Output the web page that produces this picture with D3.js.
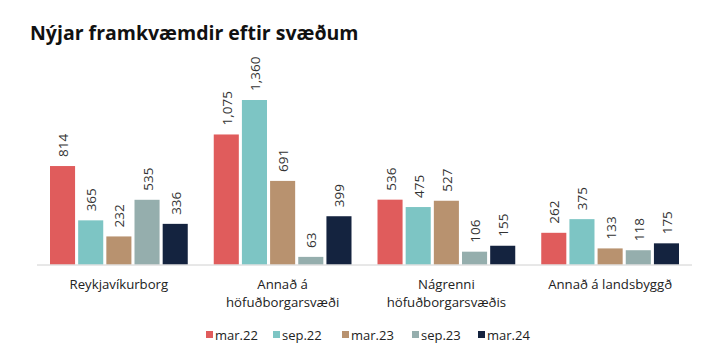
<!DOCTYPE html>
<html><head><meta charset="utf-8">
<script src="https://cdn.jsdelivr.net/npm/d3@7"></script>
<style>body{margin:0;background:#fff}svg{display:block}</style>
</head><body>
<script>
const categories = [["Reykjavíkurborg"], ["Annað á", "höfuðborgarsvæði"], ["Nágrenni", "höfuðborgarsvæðis"], ["Annað á landsbyggð"]];
const seriesNames = ["mar.22", "sep.22", "mar.23", "sep.23", "mar.24"];
const mar22 = [814, 1075, 536, 262];
const sep22 = [365, 1360, 475, 375];
const mar23 = [232, 691, 527, 133];
const sep23 = [535, 63, 106, 118];
const mar24 = [336, 399, 155, 175];
const seriesValues = [mar22, sep22, mar23, sep23, mar24];
const colors = ["#E05C5C", "#7DC5C4", "#B8926F", "#95AEAD", "#14233F"];
const fmt = d3.format(",");

const W = 713, H = 362;
const svg = d3.select("body").append("svg").attr("width", W).attr("height", H)
  .style("font-family", "'Open Sans', sans-serif");

svg.append("text").attr("x", 30).attr("y", 40)
  .attr("font-size", 19.5).attr("font-weight", 700).attr("fill", "#111")
  .text("Nýjar framkvæmdir eftir svæðum");

const x0 = d3.scaleBand().domain(d3.range(categories.length)).range([37, 692]).paddingInner(0).paddingOuter(0);
const x1 = d3.scaleBand().domain(d3.range(seriesNames.length)).range([13, x0.bandwidth() - 13]).paddingInner(0.11).paddingOuter(0);
const y = d3.scaleLinear().domain([0, 1360]).range([264.5, 100]);

const groups = svg.append("g").selectAll("g").data(categories).join("g")
  .attr("transform", (d, i) => `translate(${x0(i)},0)`);

groups.each(function(cat, ci) {
  const g = d3.select(this);
  seriesValues.forEach((vals, si) => {
    const v = vals[ci];
    g.append("rect").attr("x", x1(si)).attr("y", y(v)).attr("width", x1.bandwidth())
      .attr("height", y(0) - y(v)).attr("fill", colors[si]);
    const cx = x1(si) + x1.bandwidth() / 2 + 0.5;
    g.append("text")
      .attr("transform", `translate(${cx},${y(v) - 9}) rotate(-90)`)
      .attr("text-anchor", "start").attr("dominant-baseline", "central")
      .attr("font-size", 13.5).attr("fill", "#333").text(fmt(v));
  });
  cat.forEach((line, li) => {
    g.append("text").attr("text-anchor", "middle").attr("font-size", 13.2).attr("fill", "#222")
      .attr("x", x0.bandwidth() / 2).attr("y", 289 + li * 18).text(line);
  });
});

svg.append("line").attr("x1", 37).attr("x2", 692).attr("y1", 265).attr("y2", 265)
  .attr("stroke", "#d0d0d0").attr("stroke-width", 1);

const legX = [206, 273, 342, 412, 478];
const leg = svg.append("g").selectAll("g").data(seriesNames).join("g")
  .attr("transform", (d, i) => `translate(${legX[i]},331)`);
leg.append("rect").attr("width", 7).attr("height", 7).attr("fill", (d, i) => colors[i]);
leg.append("text").attr("x", 9).attr("y", 3.5).attr("dominant-baseline", "central")
  .attr("font-size", 13).attr("fill", "#222").text(d => d);
</script>
</body></html>
